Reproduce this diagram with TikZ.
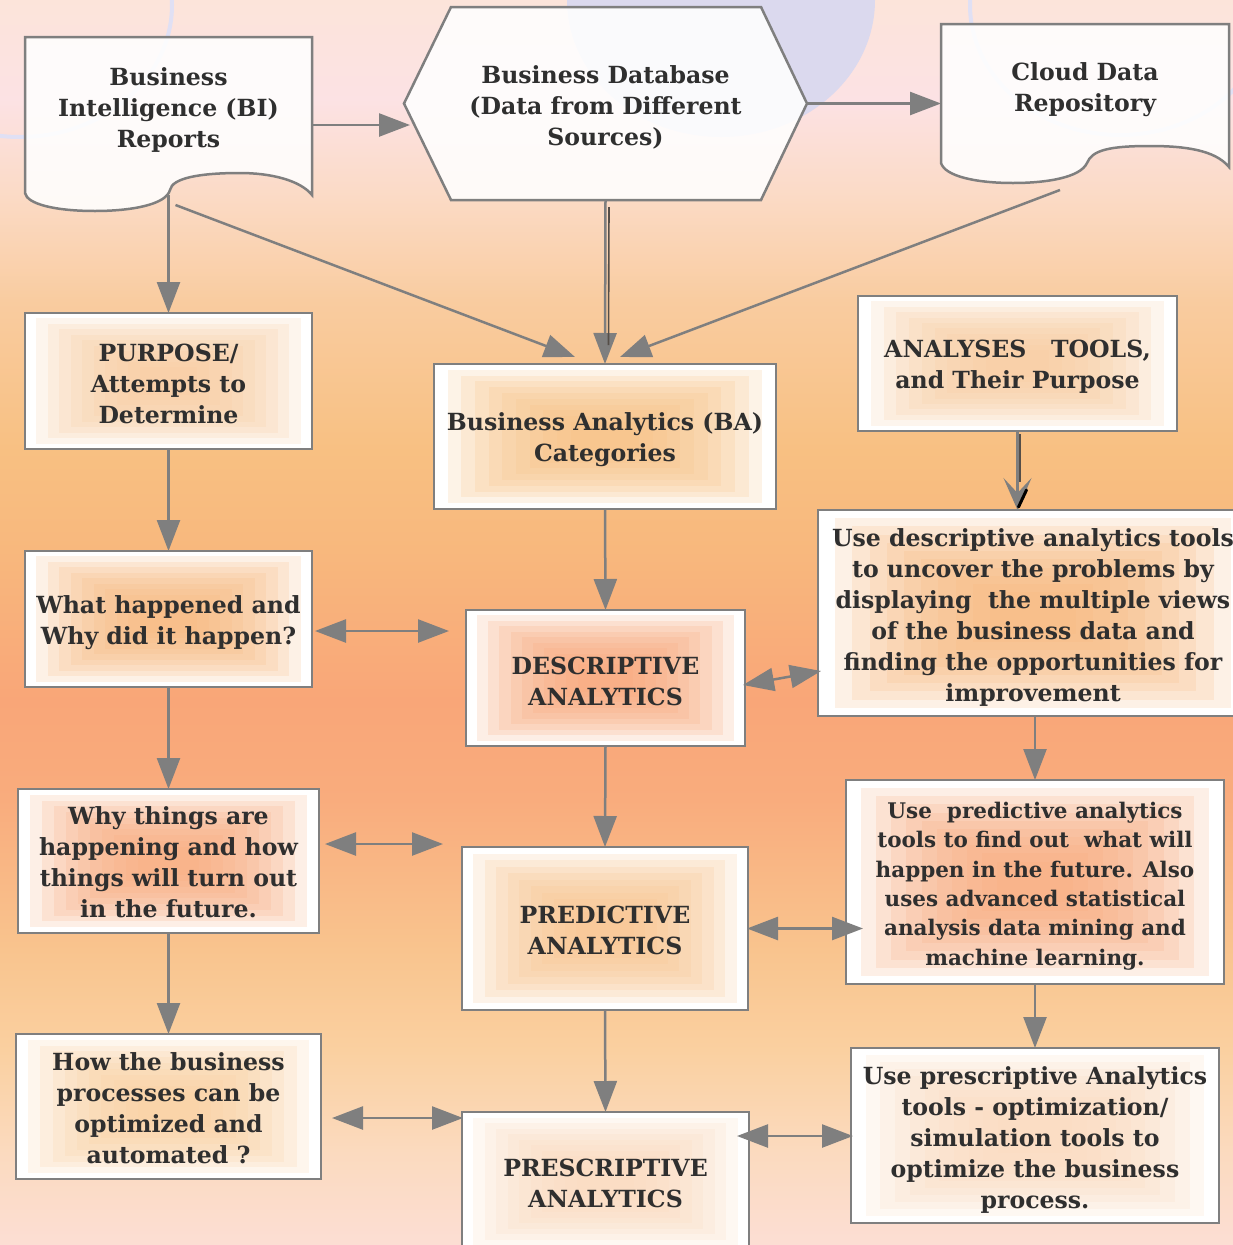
\documentclass[tikz,border=0pt]{standalone}
\usepackage{fontspec}
\setmainfont{DejaVu Serif}
\usetikzlibrary{arrows.meta,calc}

\definecolor{edgegray}{RGB}{127,127,127}
\definecolor{ink}{RGB}{47,47,47}
\definecolor{lav}{RGB}{219,217,238}
\definecolor{lavline}{RGB}{224,224,244}
\definecolor{shadowline}{RGB}{85,78,72}
% background bands, top to bottom
\definecolor{bgA}{RGB}{252,228,218}
\definecolor{bgB}{RGB}{252,226,228}
\definecolor{bgC}{RGB}{251,218,196}
\definecolor{bgD}{RGB}{249,204,160}
\definecolor{bgE}{RGB}{248,192,130}
\definecolor{bgF}{RGB}{248,184,125}
\definecolor{bgG}{RGB}{249,166,120}
\definecolor{bgH}{RGB}{249,172,125}
\definecolor{bgI}{RGB}{249,196,142}
\definecolor{bgJ}{RGB}{250,208,160}
\definecolor{bgK}{RGB}{251,218,190}
\definecolor{bgL}{RGB}{252,222,212}

\tikzset{
  txt/.style={text=ink, align=center, inner sep=0pt,
    font=\fontsize{23.6}{31}\selectfont\bfseries},
  smalltxt/.style={font=\fontsize{21.5}{29.3}\selectfont\bfseries},
  glow/.style={path picture={
    \foreach \k in {1,...,10}{
      \fill[#1, opacity=0.19]
        ($(path picture bounding box.south west)!{\k*0.04}!(path picture bounding box.north east)$)
        rectangle
        ($(path picture bounding box.north east)!{\k*0.04}!(path picture bounding box.south west)$);
    }}},
  box/.style={draw=edgegray, line width=2.5pt, fill=white, inner sep=0pt,
    outer sep=0pt, glow=#1},
  area/.style={inner sep=0pt, outer sep=0pt},
  doc/.style={draw=edgegray, line width=2.5pt, fill=white, fill opacity=0.88},
  ring/.style={draw=lavline, line width=4pt},
  arr/.style={draw=edgegray, line width=2.5pt, -{Triangle[length=31pt,width=23pt]}},
  darr/.style={draw=edgegray, line width=2.5pt,
    {Triangle[length=31pt,width=23pt]}-{Triangle[length=31pt,width=23pt]}},
}

\begin{document}
\begin{tikzpicture}[x=1pt,y=-1pt]
\useasboundingbox (0,0) rectangle (1233,1245);
\clip (0,0) rectangle (1233,1245);

% background gradient
\foreach \ya/\yb/\ca/\cb in {0/100/bgA/bgB,100/200/bgB/bgC,200/300/bgC/bgD,
    300/450/bgD/bgE,450/550/bgE/bgF,550/700/bgF/bgG,700/800/bgG/bgH,
    800/950/bgH/bgI,950/1050/bgI/bgJ,1050/1150/bgJ/bgK,1150/1245/bgK/bgL}
  \shade[top color=\ca, bottom color=\cb] (-2,{\ya-0.6}) rectangle (1235,{\yb+0.6});

% decorative rings
\draw[ring] (20,5) ellipse [x radius=152pt, y radius=132pt];
\fill[lav] (721,0) ellipse [x radius=154pt, y radius=137pt];
\draw[ring] (1120,5) ellipse [x radius=150pt, y radius=130pt];

% document shapes
\filldraw[doc] (25,37) -- (312,37) -- (312,195)
  .. controls (300,180) and (270,173) .. (240,173)
  .. controls (200,173) and (172,178) .. (170,190)
  .. controls (166,205) and (130,211) .. (95,211)
  .. controls (55,211) and (27,204) .. (25,193) -- cycle;
\node[area, minimum width=287pt, minimum height=158pt] (bi) at (168.5,116) {};
\node[txt] (bi-t) at (168.5,110) {Business\\Intelligence (BI)\\Reports};

\filldraw[doc] (941,24) -- (1229,24) -- (1229,167)
  .. controls (1215,150) and (1185,146) .. (1150,146)
  .. controls (1110,146) and (1092,150) .. (1087,163)
  .. controls (1080,178) and (1045,183) .. (1013,183)
  .. controls (975,183) and (945,176) .. (941,163) -- cycle;
\node[area, minimum width=288pt, minimum height=143pt] (cloud) at (1085,95.5) {};
\node[txt] (cloud-t) at (1085,89.5) {Cloud Data\\Repository};

% hexagon database
\node[area, minimum width=403pt, minimum height=193pt] (db) at (605.5,103.5) {};
\filldraw[doc] (db.west) -- ([xshift=47pt]db.north west) -- ([xshift=-46pt]db.north east)
  -- (db.east) -- ([xshift=-46pt]db.south east) -- ([xshift=47pt]db.south west) -- cycle;
\node[txt] (db-t) at (605.5,107) {Business Database\\(Data from Different\\Sources)};

% boxes
\node[box=bgD, minimum width=287pt, minimum height=136pt] (purpose) at (168.5,381) {};
\node[box=bgE, minimum width=342pt, minimum height=145pt] (ba) at (605,436.5) {};
\node[box=bgD, minimum width=319pt, minimum height=135pt] (tools) at (1017.5,363.5) {};
\node[box=bgF, minimum width=430pt, minimum height=206pt] (desctools) at (1033,613) {};
\node[box=bgF, minimum width=287pt, minimum height=136pt] (what) at (168.5,619) {};
\node[box=bgG, minimum width=279pt, minimum height=136pt] (desc) at (605.5,678) {};
\node[box=bgH, minimum width=301pt, minimum height=144pt] (why) at (168.5,861) {};
\node[box=bgI, minimum width=286pt, minimum height=163pt] (pred) at (605,928.5) {};
\node[box=bgH, minimum width=378pt, minimum height=204pt] (predtools) at (1035,882) {};
\node[box=bgJ, minimum width=305pt, minimum height=145pt] (how) at (168.5,1106.5) {};
\node[box=bgK, minimum width=287pt, minimum height=139pt] (presc) at (605.5,1181.5) {};
\node[box=bgK, minimum width=368pt, minimum height=175pt] (presctools) at (1035,1135.5) {};

% box texts
\node[txt] (purpose-t) at ([yshift=-3pt]purpose.center) {PURPOSE/\\Attempts to\\Determine};
\node[txt] (ba-t) at ([yshift=-3pt]ba.center) {Business Analytics (BA)\\Categories};
\node[txt] (tools-t) at ([yshift=-3pt]tools.center) {ANALYSES\ \ \ TOOLS,\\and Their Purpose};
\node[txt] (desctools-t) at ([yshift=-4pt]desctools.center)
  {Use descriptive analytics tools\\to uncover the problems by\\displaying\ \ the multiple views\\of the business data and\\finding the opportunities for\\improvement};
\node[txt] (what-t) at ([yshift=-4pt]what.center) {What happened and\\Why did it happen?};
\node[txt] (desc-t) at ([yshift=-3pt]desc.center) {DESCRIPTIVE\\ANALYTICS};
\node[txt] (why-t) at ([yshift=-1.5pt]why.center)
  {Why things are\\happening and how\\things will turn out\\in the future.};
\node[txt] (pred-t) at ([yshift=-2pt]pred.center) {PREDICTIVE\\ANALYTICS};
\node[txt, smalltxt] (predtools-t) at ([yshift=-4pt]predtools.center)
  {Use\ \ predictive analytics\\tools to find out\ \ what will\\happen in the future. Also\\uses advanced statistical\\analysis data mining and\\machine learning.};
\node[txt] (how-t) at ([yshift=-1.5pt]how.center)
  {How the business\\processes can be\\optimized and\\automated ?};
\node[txt] (presc-t) at ([yshift=-1.5pt]presc.center) {PRESCRIPTIVE\\ANALYTICS};
\node[txt] (presctools-t) at ([yshift=-4pt]presctools.center)
  {Use prescriptive Analytics\\tools - optimization/\\simulation tools to\\optimize the business\\process.};

% connectors from the sources
\draw[arr] ([yshift=-9pt]bi.east) -- ([yshift=-9pt,xshift=6pt]bi.east -| db.west);
\draw[arr] (db.east) -- (db.east -| cloud.west);
\draw[arr] (bi.south) -- (purpose.north);
\draw[arr] ([xshift=7pt,yshift=-10pt]bi.south) -- ([xshift=-30pt,yshift=7pt]ba.north);
\draw[arr] (db.south) -- (ba.north);
\draw[shadowline, line width=1.6pt] ([xshift=3.5pt,yshift=-7pt]db.south) -- ([xshift=3.5pt,yshift=19pt]ba.north);
\draw[arr] ([xshift=-25pt,yshift=-23pt]cloud.south) -- ([xshift=15pt,yshift=7pt]ba.north);

% vertical chains
\draw[arr] (purpose.south) -- (what.north);
\draw[arr] (what.south) -- (why.north);
\draw[arr] (why.south) -- (how.north);
\draw[arr] (ba.south) -- (desc.north);
\draw[arr] (desc.south) -- (pred.north);
\draw[arr] (pred.south) -- (presc.north);
\draw[draw=edgegray, line width=2.5pt, -{Stealth[length=32pt,width=28pt,inset=15pt]}]
  (tools.south) -- (tools.south |- desctools.north);
\draw[shadowline, line width=1.4pt] ([xshift=2.5pt,yshift=-3pt]tools.south) -- ([xshift=2.5pt,yshift=28pt]tools.south |- desctools.north);
\draw[black, line width=3pt, line cap=round] ([xshift=1pt,yshift=3pt]tools.south |- desctools.north) -- ([xshift=9pt,yshift=20pt]tools.south |- desctools.north);
\draw[arr] (desctools.south -| predtools.north) -- (predtools.north);
\draw[arr] (predtools.south) -- (presctools.north);

% two-way links
\draw[darr, shorten >=17pt] ([xshift=3pt,yshift=-12pt]what.east) -- ([yshift=-12pt]what.east -| desc.west);
\draw[darr, shorten >=19pt] ([xshift=6pt,yshift=17pt]why.east) -- ([yshift=17pt]why.east -| pred.west);
\draw[darr] ([xshift=11pt,yshift=-11.5pt]how.east) -- ([xshift=1pt,yshift=-11.5pt]how.east -| presc.west);
\draw[darr] ([xshift=-2pt,yshift=-7pt]desc.east) -- ([xshift=3pt,yshift=-58pt]desctools.west);
\draw[darr] ([xshift=-1pt]pred.east) -- ([xshift=17pt]pred.east -| predtools.west);
\draw[darr] ([xshift=-12pt,yshift=45.5pt]presc.east) -- ([xshift=2pt,yshift=45.5pt]presc.east -| presctools.west);
\end{tikzpicture}
\end{document}
